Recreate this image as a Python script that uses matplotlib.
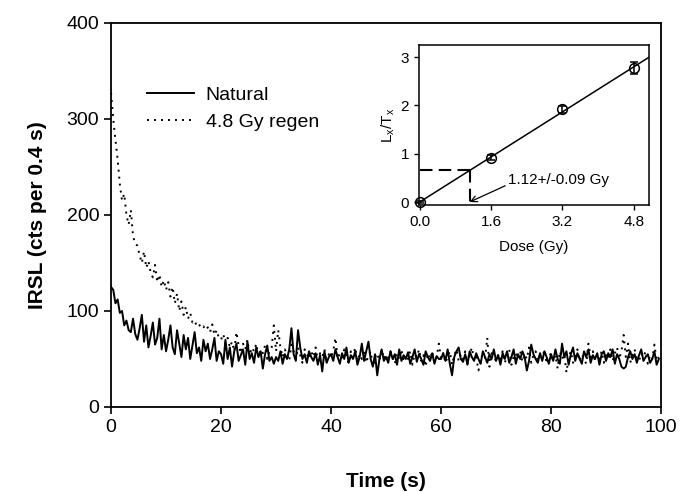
import numpy as np
import matplotlib
matplotlib.use("Agg")
from matplotlib import pyplot as plt

plt.rcParams['font.family'] = ['Liberation Sans', 'DejaVu Sans']

# IRSL decay curves, one value per 0.4 s channel (250 channels)
natural = [
    125, 122, 108, 112, 98, 100, 85, 90, 80, 78, 92, 76, 70, 82, 96, 68, 85, 62, 74, 88, 65, 72, 92, 60, 75,
    58, 70, 85, 62, 55, 80, 66, 52, 75, 60, 72, 50, 64, 78, 56, 62, 48, 70, 58, 66, 50, 60, 72, 48, 58,
    55, 45, 70, 50, 62, 42, 58, 66, 48, 54, 60, 44, 68, 50, 56, 46, 62, 52, 58, 40, 55, 64, 48, 52, 45,
    52, 48, 58, 45, 55, 50, 60, 82, 55, 48, 80, 62, 50, 55, 46, 58, 52, 48, 56, 44, 54, 37, 58, 46, 52,
    55, 48, 60, 52, 45, 56, 50, 62, 46, 54, 50, 58, 44, 52, 66, 48, 58, 68, 50, 42, 55, 33, 50, 60, 48,
    52, 46, 58, 50, 55, 44, 60, 48, 54, 50, 57, 45, 52, 60, 47, 55, 50, 44, 58, 52, 48, 56, 45, 53, 50,
    50, 56, 48, 60, 45, 33, 52, 58, 62, 50, 47, 55, 44, 58, 52, 48, 56, 50, 45, 58, 52, 46, 55, 50, 60,
    48, 54, 44, 56, 50, 58, 46, 52, 60, 45, 55, 50, 58, 52, 38, 48, 65, 55, 50, 46, 56, 48, 58, 52, 45,
    55, 48, 60, 50, 45, 66, 52, 58, 44, 55, 62, 48, 56, 50, 45, 58, 52, 60, 46, 54, 50, 56, 44, 55, 58,
    48, 56, 52, 60, 45, 55, 50, 42, 40, 42, 52, 58, 50, 55, 46, 54, 60, 48, 52, 55, 46, 50, 58, 44, 50,
]
regen = [
    327, 300, 278, 258, 232, 215, 222, 200, 190, 205, 178, 170, 168, 158, 150, 162, 145, 152, 140, 135, 148, 130, 138, 125, 132,
    122, 130, 115, 125, 108, 118, 100, 110, 96, 104, 92, 98, 88, 90, 84, 86, 82, 84, 80, 83, 78, 86, 75, 80, 72,
    70, 76, 66, 72, 62, 68, 58, 78, 64, 56, 66, 60, 70, 54, 62, 58, 66, 52, 60, 56, 64, 50, 58, 62, 85,
    58, 80, 62, 52, 60, 55, 48, 65, 58, 50, 62, 54, 46, 60, 55, 50, 58, 52, 62, 48, 56, 52, 60, 46, 55,
    52, 58, 72, 50, 56, 48, 60, 54, 45, 58, 52, 62, 48, 55, 50, 60, 46, 54, 58, 42, 52, 56, 48, 60, 50,
    55, 48, 58, 52, 45, 56, 50, 60, 47, 54, 50, 58, 44, 55, 52, 60, 48, 54, 42, 56, 50, 58, 46, 52, 66,
    50, 56, 46, 52, 58, 44, 54, 60, 48, 55, 50, 58, 45, 54, 62, 48, 52, 38, 46, 58, 50, 72, 42, 56, 52,
    48, 55, 50, 58, 46, 54, 60, 44, 52, 56, 50, 58, 47, 55, 50, 62, 46, 54, 58, 48, 55, 50, 60, 45, 52,
    56, 48, 54, 40, 58, 50, 55, 36, 52, 58, 46, 54, 60, 48, 55, 50, 45, 66, 52, 58, 48, 55, 50, 58, 46,
    54, 50, 60, 48, 56, 62, 50, 58, 75, 52, 66, 46, 55, 60, 50, 48, 56, 52, 58, 45, 54, 50, 65, 48, 52,
]
channel = 0.4
time = np.arange(len(natural)) * channel

# dose response (inset)
dose = [0.0, 1.6, 3.2, 4.8]
lxtx = [0.0, 0.92, 1.92, 2.78]
lxtx_err = [0.03, 0.05, 0.07, 0.12]
fit_slope = 0.583
de = 1.12
de_label = "1.12+/-0.09 Gy"

fig = plt.figure(figsize=(6.94, 4.92), dpi=100)
ax = fig.add_axes([0.160, 0.1728, 0.7925, 0.7805])

ax.plot(time, natural, color='black', lw=1.4, ls='-', label='Natural')
ax.plot(time, regen, color='black', lw=1.4, dashes=(1, 2.6), label='4.8 Gy regen')
ax.set_xlim(0, 100)
ax.set_ylim(0, 400)
ax.set_xticks([0, 20, 40, 60, 80, 100])
ax.set_yticks([0, 100, 200, 300, 400])
ax.tick_params(direction='out', length=5, width=1.2, labelsize=14)
for s in ax.spines.values():
    s.set_linewidth(1.3)
ax.set_xlabel('Time (s)', fontsize=15, fontweight='bold', labelpad=26)
ax.set_ylabel('IRSL (cts per 0.4 s)', fontsize=15, fontweight='bold', labelpad=14)
ax.legend(loc='upper left', bbox_to_anchor=(0.066, 0.836), frameon=False, fontsize=14,
          handlelength=2.4, handletextpad=0.6, labelspacing=0.5, borderpad=0, borderaxespad=0)

# inset
ins = fig.add_axes([0.6037, 0.5833, 0.3314, 0.3252])
xmax = 5.14
xs = np.array([0, xmax])
ins.plot(xs, fit_slope * xs, color='black', lw=1.1)
ins.errorbar(dose, lxtx, yerr=lxtx_err, fmt='o', mfc='none', mec='black', ecolor='black',
             ms=7, mew=1.1, capsize=3, elinewidth=1.1, zorder=3, clip_on=False)
ins.plot([0, de], [fit_slope * de] * 2, color='black', lw=1.5, dashes=(6, 3))
ins.plot([de, de], [fit_slope * de, 0], color='black', lw=1.5, dashes=(6, 3))
ins.annotate(de_label, xy=(de, 0.0), xytext=(1.98, 0.45), fontsize=11, va='center',
             arrowprops=dict(arrowstyle='->', color='black', lw=0.9, shrinkA=0, shrinkB=0,
                             relpos=(0, 0.2)))
ins.set_xlim(-0.016, xmax)
ins.set_ylim(-0.062, 3.25)
ins.set_xticks(dose)
ins.set_xticklabels(['0.0', '1.6', '3.2', '4.8'])
ins.set_yticks([0, 1, 2, 3])
ins.tick_params(direction='out', length=3.5, width=1, labelsize=11)
for s in ins.spines.values():
    s.set_linewidth(1.1)
ins.set_xlabel('Dose (Gy)', fontsize=11, labelpad=8)
ins.set_ylabel(r'L$_\mathregular{x}$/T$_\mathregular{x}$', fontsize=11, labelpad=3)

fig.savefig('out.png', dpi=100)
